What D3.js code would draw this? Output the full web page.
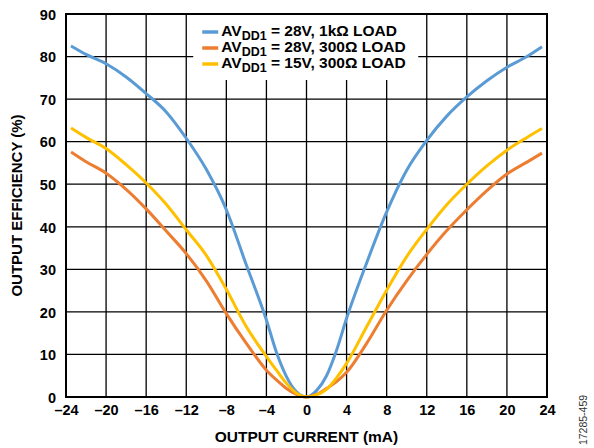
<!DOCTYPE html>
<html>
<head>
<meta charset="utf-8">
<script src="https://cdn.jsdelivr.net/npm/d3@7"></script>
<style>
  body { margin: 0; background: #fff; }
  svg { display: block; font-family: "Liberation Sans", Arial, sans-serif; }
</style>
</head>
<body>
<svg id="drawing_region"></svg>
<script>
// output current (mA)
const current = [-23.5, -22, -20, -18, -16, -14, -12, -10, -8, -6, -4, -3, -2, -1, 0,
                 1, 2, 3, 4, 6, 8, 10, 12, 14, 16, 18, 20, 22, 23.5];
// efficiency (%)
const eff28v1k = [82.5, 80.5, 78.3, 75.2, 71.3, 67.0, 60.8, 53.5, 44.0, 31.0, 18.1, 10.5, 4.8, 1.2, 0,
                  1.5, 5.0, 11.0, 18.5, 31.5, 43.5, 53.3, 60.3, 66.0, 70.5, 74.3, 77.5, 80.0, 82.3];
const eff28v300 = [57.6, 55.3, 52.6, 48.8, 44.2, 39.0, 33.7, 27.3, 19.6, 12.6, 6.3, 4.0, 2.0, 0.6, 0,
                   0.6, 2.0, 3.6, 5.8, 12.6, 20.4, 27.3, 33.5, 39.1, 44.0, 48.5, 52.4, 55.2, 57.3];
const eff15v300 = [63.2, 61.0, 58.4, 54.6, 50.3, 45.3, 39.3, 33.3, 25.3, 16.5, 9.5, 6.3, 3.2, 0.9, 0,
                   0.5, 1.8, 4.5, 7.9, 16.5, 25.1, 33.0, 39.4, 45.2, 50.0, 54.3, 58.0, 61.0, 63.1];

const xticks = [-24, -20, -16, -12, -8, -4, 0, 4, 8, 12, 16, 20, 24];
const yticks = [0, 10, 20, 30, 40, 50, 60, 70, 80, 90];

const series = [
    {sub: "DD1", rest: " = 28V, 1kΩ LOAD", values: eff28v1k, color: "#5b9bd5"},
    {sub: "DD1", rest: " = 28V, 300Ω LOAD", values: eff28v300, color: "#ed7d31"},
    {sub: "DD1", rest: " = 15V, 300Ω LOAD", values: eff15v300, color: "#ffc000"}
];

const config = {
    width: 594,
    height: 448,
    margin: {top: 14, right: 47, bottom: 51, left: 66}
};

const svg = d3.select('#drawing_region')
    .attr('width', config.width)
    .attr('height', config.height);

const inner_width = config.width - config.margin.left - config.margin.right;
const inner_height = config.height - config.margin.top - config.margin.bottom;

const chart = svg.append('g')
    .attr('transform', `translate(${config.margin.left}, ${config.margin.top})`);

const xscale = d3.scaleLinear().domain([-24, 24]).range([0, inner_width]);
const yscale = d3.scaleLinear().domain([0, 90]).range([inner_height, 0]);

const fmt = d => d < 0 ? "\u2013" + Math.abs(d) : String(d);

// grid
chart.append('g')
    .selectAll('line')
    .data(xticks)
    .join('line')
    .attr('x1', d => xscale(d)).attr('x2', d => xscale(d))
    .attr('y1', 0).attr('y2', inner_height)
    .attr('stroke', '#000').attr('stroke-width', 1.3);

chart.append('g')
    .selectAll('line')
    .data(yticks)
    .join('line')
    .attr('x1', 0).attr('x2', inner_width)
    .attr('y1', d => yscale(d)).attr('y2', d => yscale(d))
    .attr('stroke', '#000').attr('stroke-width', 1.3);

// axes (labels only)
const xaxis = d3.axisBottom(xscale).tickValues(xticks).tickFormat(fmt).tickSize(0).tickPadding(8);
const yaxis = d3.axisLeft(yscale).tickValues(yticks).tickFormat(fmt).tickSize(0).tickPadding(10);

const xg = chart.append('g').attr('transform', `translate(0, ${inner_height})`).call(xaxis);
const yg = chart.append('g').call(yaxis);
[xg, yg].forEach(g => {
    g.select('.domain').remove();
    g.selectAll('text')
        .attr('font-family', '"Liberation Sans", Arial, sans-serif')
        .attr('font-size', '14.5px')
        .attr('font-weight', 'bold')
        .attr('fill', '#000');
});
yg.selectAll('text').attr('dy', '0.36em');

// legend background
const legend = chart.append('g').attr('transform', `translate(${xscale(-12) + 7}, 0)`);
legend.append('rect')
    .attr('x', 0).attr('y', 0)
    .attr('width', 225).attr('height', 66)
    .attr('fill', '#fff');

// lines
const line = d3.line()
    .x((d, i) => xscale(current[i]))
    .y(d => yscale(d))
    .curve(d3.curveMonotoneX);

chart.append('g')
    .selectAll('path')
    .data(series)
    .join('path')
    .attr('d', d => line(d.values))
    .attr('fill', 'none')
    .attr('stroke', d => d.color)
    .attr('stroke-width', 3)
    .attr('stroke-linejoin', 'round');

// legend entries
const items = legend.selectAll('g.item')
    .data(series)
    .join('g')
    .attr('class', 'item')
    .attr('transform', (d, i) => `translate(0, ${18 + i * 16})`);

items.append('line')
    .attr('x1', 9).attr('x2', 25)
    .attr('y1', 0).attr('y2', 0)
    .attr('stroke', d => d.color)
    .attr('stroke-width', 3.5);

const ltext = items.append('text')
    .attr('x', 28).attr('y', 4)
    .attr('font-size', '15.5px')
    .attr('font-weight', 'bold')
    .attr('fill', '#000');
ltext.append('tspan').text('AV');
ltext.append('tspan').attr('dy', 4).attr('font-size', '12.5px').text(d => d.sub);
ltext.append('tspan').attr('dy', -4).text(d => d.rest);

// frame
chart.append('rect')
    .attr('width', inner_width).attr('height', inner_height)
    .attr('fill', 'none').attr('stroke', '#000').attr('stroke-width', 2);

// axis titles
svg.append('text')
    .attr('x', config.margin.left + inner_width / 2)
    .attr('y', 442)
    .attr('text-anchor', 'middle')
    .attr('font-size', '15.5px')
    .attr('font-weight', 'bold')
    .text('OUTPUT CURRENT (mA)');

svg.append('text')
    .attr('transform', `translate(22, ${config.margin.top + inner_height / 2}) rotate(-90)`)
    .attr('text-anchor', 'middle')
    .attr('font-size', '15px')
    .attr('font-weight', 'bold')
    .text('OUTPUT EFFICIENCY (%)');

svg.append('text')
    .attr('transform', 'translate(587, 420) rotate(-90)')
    .attr('text-anchor', 'middle')
    .attr('font-size', '10.5px')
    .attr('fill', '#333')
    .text('17285-459');
</script>
</body>
</html>
